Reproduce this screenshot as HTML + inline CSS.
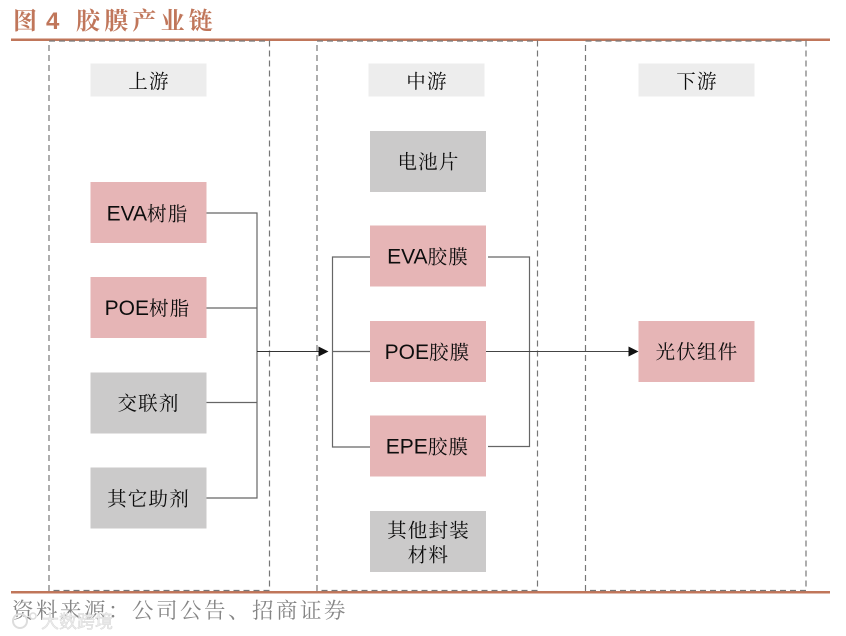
<!DOCTYPE html>
<html><head><meta charset="utf-8"><style>
html,body{margin:0;padding:0;background:#fff}
svg{display:block}
text{font-family:"Liberation Sans","Noto Serif CJK SC",serif}
.l{font-size:21px;fill:#0d0d0d;text-anchor:middle}
.l tspan{font-size:19.500px;letter-spacing:1.200px}
.d{fill:none;stroke:#777;stroke-width:1.2;stroke-dasharray:6 4}
.c{fill:none;stroke:#666;stroke-width:1.2}
</style></head><body>
<svg width="846" height="636" viewBox="0 0 846 636" xmlns="http://www.w3.org/2000/svg">
<rect width="846" height="636" fill="#fff"/>
<text x="13" y="29" font-size="24" font-weight="700" fill="#c0765a">图</text>
<text x="46" y="29" font-size="24" font-weight="700" fill="#c0765a">4</text>
<text x="76" y="29" font-size="24" font-weight="700" fill="#c0765a" letter-spacing="4.200">胶膜产业链</text>
<rect x="11" y="38.500" width="819" height="2.500" fill="#c0765a"/>
<rect x="11" y="591" width="819" height="2.500" fill="#c0765a"/>

<rect class="d" x="49" y="41" width="220.500" height="549.500"/>
<rect class="d" x="317" y="41" width="220.500" height="549.500"/>
<rect class="d" x="585.500" y="41" width="220.500" height="549.500"/>

<rect x="90.500" y="63.500" width="116" height="33" fill="#ededed"/>
<rect x="368.500" y="63.500" width="116" height="33" fill="#ededed"/>
<rect x="638.500" y="63.500" width="116" height="33" fill="#ededed"/>
<text class="l" x="149" y="88"><tspan>上游</tspan></text>
<text class="l" x="427" y="88"><tspan>中游</tspan></text>
<text class="l" x="697" y="88"><tspan>下游</tspan></text>

<rect x="90.500" y="182" width="116" height="61" fill="#e6b5b6"/>
<rect x="90.500" y="277" width="116" height="61" fill="#e6b5b6"/>
<rect x="90.500" y="372.500" width="116" height="61" fill="#cbcaca"/>
<rect x="90.500" y="467.500" width="116" height="61" fill="#cbcaca"/>
<rect x="370" y="131" width="116" height="61" fill="#cbcaca"/>
<rect x="370" y="225.500" width="116" height="61" fill="#e6b5b6"/>
<rect x="370" y="321" width="116" height="61" fill="#e6b5b6"/>
<rect x="370" y="415.500" width="116" height="61" fill="#e6b5b6"/>
<rect x="370" y="511" width="116" height="61" fill="#cbcaca"/>
<rect x="638.500" y="321" width="116" height="61" fill="#e6b5b6"/>

<text class="l" x="147.500" y="220.500">EVA<tspan>树脂</tspan></text>
<text class="l" x="147.500" y="315">POE<tspan>树脂</tspan></text>
<text class="l" x="148.500" y="410"><tspan>交联剂</tspan></text>
<text class="l" x="148.500" y="505.500"><tspan>其它助剂</tspan></text>
<text class="l" x="428.500" y="168.500"><tspan>电池片</tspan></text>
<text class="l" x="428" y="263.500">EVA<tspan>胶膜</tspan></text>
<text class="l" x="427.500" y="359">POE<tspan>胶膜</tspan></text>
<text class="l" x="427.500" y="453.500">EPE<tspan>胶膜</tspan></text>
<text class="l" x="428.500" y="537"><tspan>其他封装</tspan></text>
<text class="l" x="428.500" y="561.500"><tspan>材料</tspan></text>
<text class="l" x="697" y="358.500"><tspan>光伏组件</tspan></text>

<path class="c" d="M206.500 213H257V498H206.500M206.500 308H257M206.500 402.500H257"/>
<path class="c" d="M370 257H332.500V447H370M332.500 351.500H370"/>
<path class="c" d="M488 257H529.500V446.500H488"/>
<path d="M257 351.500H320" fill="none" stroke="#333" stroke-width="1"/>
<path d="M486 351.500H630" fill="none" stroke="#444" stroke-width="1"/>
<path d="M318.500 346.500L328.500 351.500L318.500 356.500Z" fill="#111"/>
<path d="M628.500 346.500L638.500 351.500L628.500 356.500Z" fill="#111"/>

<text x="12" y="618" font-size="21.500" fill="#858585" letter-spacing="2.500">资料来源：公司公告、招商证券</text>
<text x="41" y="628" font-size="18" fill="#ececec" stroke="#d4d4d4" stroke-width="0.4" style="font-family:'Liberation Sans','Noto Sans CJK SC',sans-serif">大数跨境</text>
<circle cx="20" cy="621" r="7" fill="none" stroke="#ddd" stroke-width="2"/>
<circle cx="33" cy="616" r="3" fill="none" stroke="#ddd" stroke-width="1.500"/>
</svg>
</body></html>
